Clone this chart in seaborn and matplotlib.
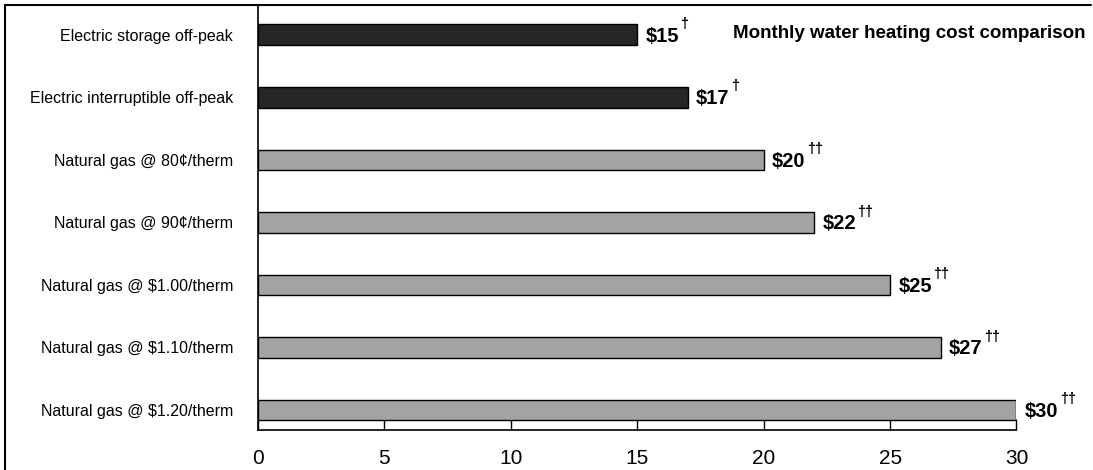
import matplotlib
matplotlib.use("Agg")
import matplotlib.pyplot as plt
import seaborn as sns
import pandas as pd

# Monthly water heating cost by energy option
categories = [
    "Electric storage off-peak",
    "Electric interruptible off-peak",
    "Natural gas @ 80¢/therm",
    "Natural gas @ 90¢/therm",
    "Natural gas @ $1.00/therm",
    "Natural gas @ $1.10/therm",
    "Natural gas @ $1.20/therm",
]
costs = [15, 17, 20, 22, 25, 27, 30]
footnotes = ["†", "†", "††", "††", "††", "††", "††"]
fuel = ["Electric", "Electric", "Gas", "Gas", "Gas", "Gas", "Gas"]
x_ticks = [0, 5, 10, 15, 20, 25, 30]

df = pd.DataFrame({"option": categories, "cost": costs, "fuel": fuel})

sns.set_theme(style="white")
plt.rcParams["font.family"] = ["Liberation Sans", "DejaVu Sans"]

fig = plt.figure(figsize=(10.93, 4.70), dpi=100)
ax = fig.add_axes([0.236, 0.085, 0.694, 0.905])

sns.barplot(
    data=df, x="cost", y="option", hue="fuel",
    palette={"Electric": "#262626", "Gas": "#a3a3a3"},
    orient="h", width=0.33, edgecolor="black", linewidth=1.0,
    dodge=False, legend=False, ax=ax,
)

ax.set_xlim(0, 30)
ax.set_ylim(6.32, -0.48)
ax.set_xlabel("")
ax.set_ylabel("")
ax.set_xticks(x_ticks)
ax.set_xticklabels([str(t) for t in x_ticks], fontsize=15)
ax.tick_params(axis="x", direction="in", length=8, width=1.0, color="black",
               pad=14, bottom=True)
ax.tick_params(axis="y", length=0, pad=18, labelsize=11.5)
for lbl in ax.get_yticklabels() + ax.get_xticklabels():
    lbl.set_color("black")

for side in ["top", "right"]:
    ax.spines[side].set_visible(False)
for side in ["left", "bottom"]:
    ax.spines[side].set_color("black")
    ax.spines[side].set_linewidth(1.2)

# Value labels followed by raised footnote daggers
for i, (v, note) in enumerate(zip(costs, footnotes)):
    t = ax.annotate(f"\\${v}", xy=(v, i), xytext=(6, -1), textcoords="offset points",
                    ha="left", va="center", fontsize=14.5, fontweight="bold",
                    color="black")
    ax.annotate(note, xy=(1, 1), xycoords=t, xytext=(1, 7),
                textcoords="offset points", ha="left", va="top",
                fontsize=10.5, fontweight="bold", color="black")

fig.text(0.993, 0.928, "Monthly water heating cost comparison",
         ha="right", va="center", fontsize=13.5, fontweight="bold", color="black")

# Outer frame of the figure
fig.add_artist(plt.Line2D([0.005, 0.005], [0.0, 0.99], transform=fig.transFigure,
                          color="black", linewidth=1.5))
fig.add_artist(plt.Line2D([0.005, 0.998], [0.99, 0.99], transform=fig.transFigure,
                          color="black", linewidth=1.5))

fig.savefig("out.png", dpi=100, facecolor="white")
